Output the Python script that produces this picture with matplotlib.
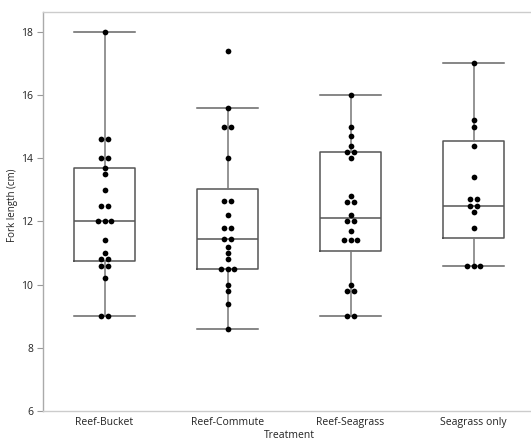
import matplotlib
matplotlib.use("Agg")
import matplotlib.pyplot as plt
import numpy as np

plt.rcParams['font.family'] = ['Open Sans', 'DejaVu Sans']

groups = ["Reef-Bucket", "Reef-Commute", "Reef-Seagrass", "Seagrass only"]

# fork lengths
reef_bucket = [18.0, 14.6, 14.6, 14.0, 14.0, 13.7, 13.5, 13.0, 12.5, 12.5,
               12.0, 12.0, 12.0, 11.4, 11.0, 10.8, 10.8, 10.6, 10.6, 10.2,
               9.0, 9.0]
reef_commute = [17.4, 15.6, 15.0, 15.0, 14.0, 12.65, 12.65, 12.2, 11.8, 11.8,
                11.45, 11.45, 11.2, 11.0, 10.8, 10.5, 10.5, 10.5, 10.0, 9.8,
                9.4, 8.6]
reef_seagrass = [16.0, 15.0, 14.7, 14.4, 14.2, 14.2, 14.0, 12.8, 12.6, 12.6,
                 12.2, 12.0, 12.0, 11.7, 11.4, 11.4, 11.4, 10.0, 9.8, 9.8,
                 9.0, 9.0]
seagrass_only = [17.0, 15.2, 15.0, 14.4, 13.4, 12.7, 12.7, 12.5, 12.5, 12.3,
                 11.8, 10.6, 10.6, 10.6]
data = [reef_bucket, reef_commute, reef_seagrass, seagrass_only]

# box summaries as drawn (quantiles, whisker ends)
q1 = [10.75, 10.48, 11.05, 11.49]
med = [12.0, 11.45, 12.1, 12.49]
q3 = [13.7, 13.02, 14.2, 14.54]
whislo = [9.0, 8.6, 9.0, 10.6]
whishi = [18.0, 15.6, 16.0, 17.0]

fig = plt.figure(figsize=(5.31, 4.44), dpi=100)
ax = fig.add_axes([43 / 531, 33 / 444, 492 / 531, 399 / 444])

stats = []
for i in range(4):
    stats.append(dict(q1=q1[i], med=med[i], q3=q3[i], whislo=whislo[i],
                      whishi=whishi[i], fliers=[]))
pos = np.arange(4)
ax.bxp(stats, positions=pos, widths=0.5, showfliers=False,
       boxprops=dict(color="#555555", lw=1.1),
       medianprops=dict(color="#555555", lw=1.1),
       whiskerprops=dict(color="#777777", lw=1.1),
       capprops=dict(color="#666666", lw=1.1), capwidths=0.5)

# simple swarm: spread equal values side by side
step = 0.052
for i, vals in enumerate(data):
    vals = np.array(vals)
    for v in np.unique(vals):
        n = np.sum(vals == v)
        offs = (np.arange(n) - (n - 1) / 2) * step
        ax.scatter(pos[i] + offs, [v] * n, s=17, color="black", zorder=5,
                   linewidths=0)

ax.set_xlim(-0.5, 3.5)
ax.set_ylim(6, 18.63)
ax.set_yticks([6, 8, 10, 12, 14, 16, 18])
ax.set_xticks(pos)
ax.set_xticklabels(groups)
ax.tick_params(axis="x", length=0, labelsize=7.5, pad=4, colors="#222222")
ax.tick_params(axis="y", length=4, width=0.8, labelsize=7.5, pad=3,
               colors="#999999", labelcolor="#222222")
for s in ax.spines.values():
    s.set_color("#cccccc")
    s.set_linewidth(1.0)
ax.spines["left"].set_color("#aaaaaa")
ax.set_ylabel("Fork length (cm)", fontsize=7, color="#222222")
ax.yaxis.set_label_coords(-0.05, 0.516)
ax.set_xlabel("Treatment", fontsize=7.5, color="#222222", labelpad=2)

fig.savefig("out.png", dpi=100)
